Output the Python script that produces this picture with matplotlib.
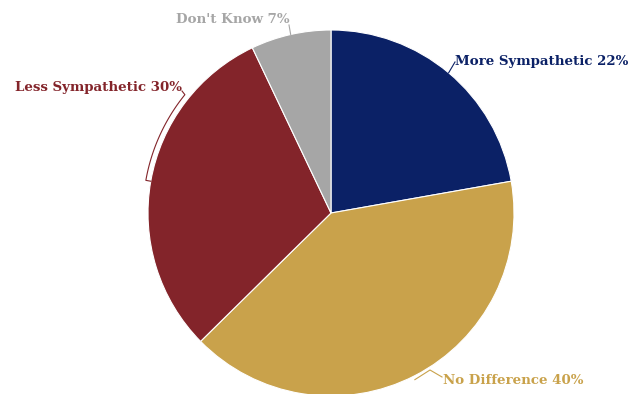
import numpy as np
import matplotlib
matplotlib.use("Agg")
import matplotlib.pyplot as plt
from matplotlib import font_manager

categories = ["More Sympathetic", "No Difference", "Less Sympathetic", "Don't Know"]
values = [22, 40, 30, 7]
colors = ["#0b2166", "#c9a24b", "#83242a", "#a6a6a6"]

W, H = 635, 394
fig = plt.figure(figsize=(W / 100, H / 100), dpi=100)
ax = fig.add_axes([0, 0, 1, 1])

cx, cy, r = 331, H - 213, 183
wedges, _ = ax.pie(values, colors=colors, startangle=90, counterclock=False,
                   center=(cx, cy), radius=r,
                   wedgeprops=dict(edgecolor="white", linewidth=0.8))
ax.set_xlim(0, W)
ax.set_ylim(0, H)
ax.set_aspect("equal")
ax.axis("off")

total = sum(values)
mids = []
start = 90.0
for v in values:
    span = v / total * 360
    mids.append((start - span / 2) % 360)
    start -= span


def pt(ang, rad):
    a = np.deg2rad(ang)
    return cx + rad * np.cos(a), cy + rad * np.sin(a)


names = {f.name for f in font_manager.fontManager.ttflist}
if "DejaVu Serif Condensed" in names:
    font = dict(family="DejaVu Serif Condensed", weight="bold", fontsize=10.8)
else:
    font = dict(family="DejaVu Serif", weight="bold", fontsize=9.6)
lw = 0.8

# More Sympathetic
x0, y0 = pt(mids[0], r)
ax.plot([x0, 455], [y0, H - 62], color=colors[0], lw=lw)
ax.text(455, H - 61, f"{categories[0]} {values[0]}%", color=colors[0],
        ha="left", va="center", **font)

# No Difference
x0, y0 = pt(mids[1], r)
ax.plot([x0, 430, 442], [y0 - 4, H - 370, H - 377], color=colors[1], lw=lw)
ax.text(443, H - 380, f"{categories[1]} {values[1]}%", color=colors[1],
        ha="left", va="center", **font)

# Less Sympathetic
x0, y0 = pt(mids[2], r)
arc = np.linspace(mids[2], 141, 40)
ax_x = [x0] + [pt(a, r + 5)[0] for a in arc] + [182]
ax_y = [y0] + [pt(a, r + 5)[1] for a in arc] + [H - 91]
ax.plot(ax_x, ax_y, color=colors[2], lw=lw)
ax.text(182, H - 87, f"{categories[2]} {values[2]}%", color=colors[2],
        ha="right", va="center", **font)

# Don't Know
x0, y0 = pt(mids[3], r)
ax.plot([x0, 289], [y0, H - 25], color=colors[3], lw=lw)
ax.text(290, H - 19, f"{categories[3]} {values[3]}%", color=colors[3],
        ha="right", va="center", **font)

fig.savefig("out.png", dpi=100)
